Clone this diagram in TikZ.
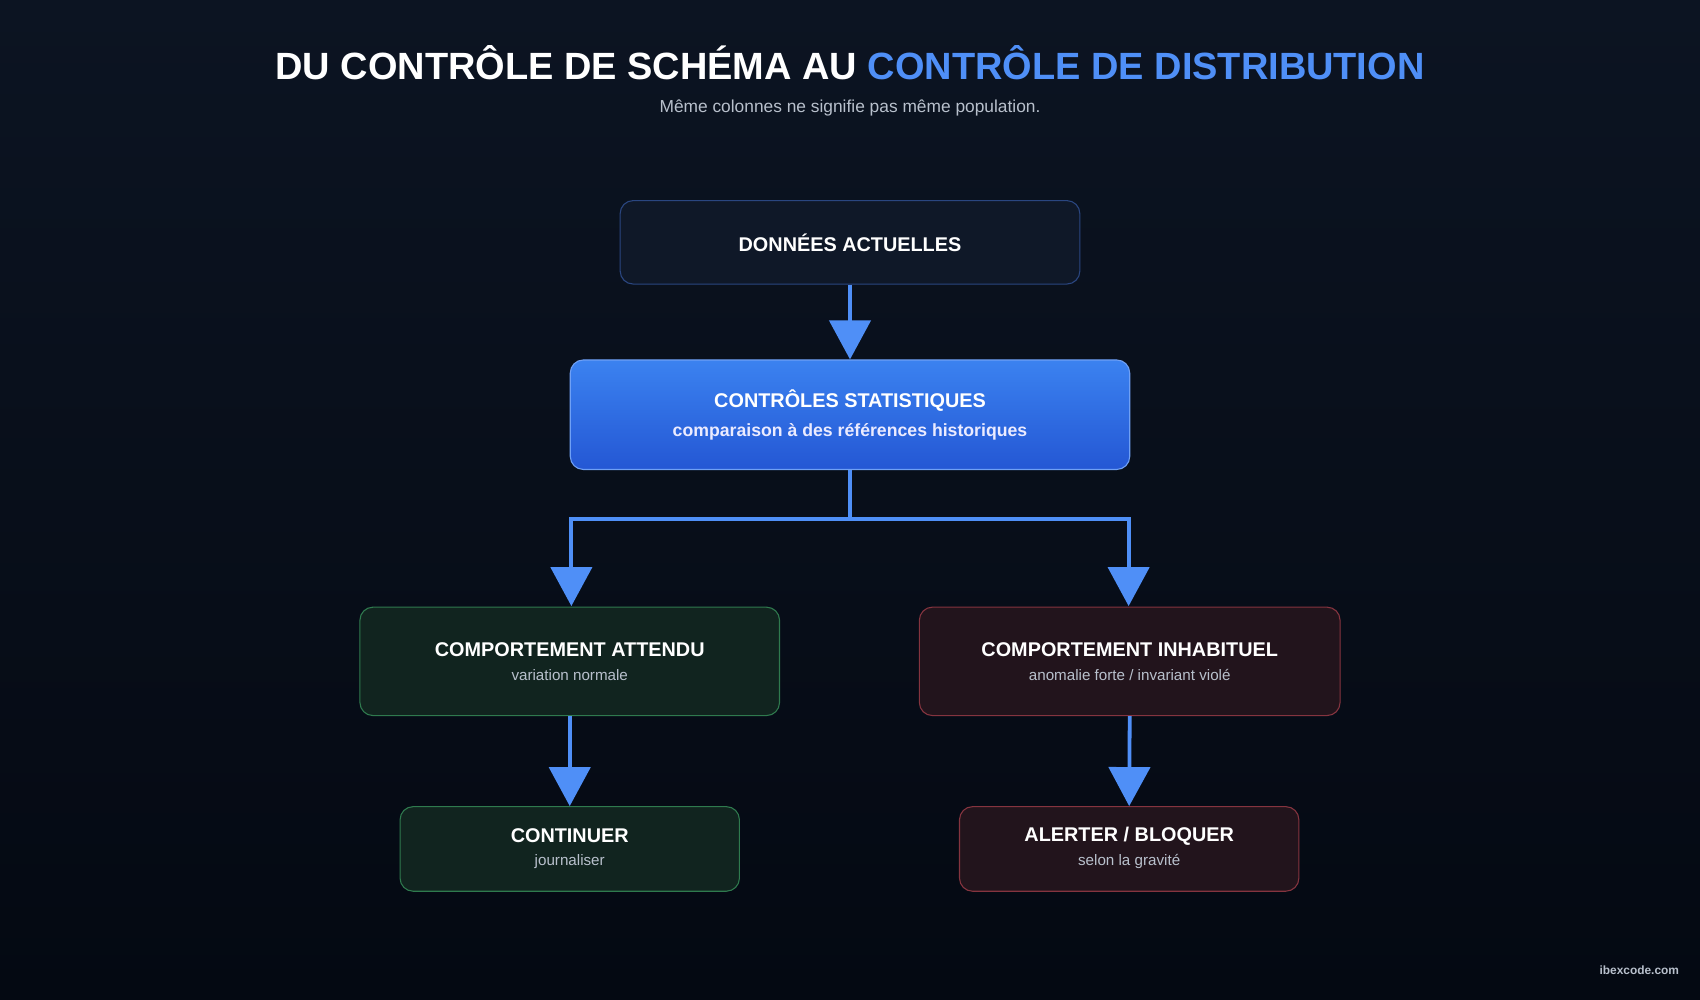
\documentclass[tikz,border=0pt]{standalone}
\usepackage{fontspec}
\setmainfont{Liberation Sans}
\usetikzlibrary{arrows.meta}
\definecolor{bgtop}{HTML}{0C1422}
\definecolor{bgbot}{HTML}{040912}
\definecolor{accent}{HTML}{4F8FF7}
\definecolor{sub}{HTML}{B8C0CC}
\definecolor{HTMLa}{HTML}{0F1828}
\definecolor{HTMLb}{HTML}{2A4680}
\definecolor{HTMLtop}{HTML}{3B82F0}
\definecolor{HTMLbot}{HTML}{2457D4}
\definecolor{HTMLbd}{HTML}{6FA0F5}
\definecolor{gfill}{HTML}{11241F}
\definecolor{gdraw}{HTML}{2F7A4E}
\definecolor{rfill}{HTML}{22141C}
\definecolor{rdraw}{HTML}{85343F}
\tikzset{
  box/.style={rounded corners=12pt, line width=1pt, align=center, text=white, inner sep=0pt},
  neutral/.style={box, fill=HTMLa, draw=HTMLb},
  arr/.style={draw=accent, line width=3.5pt, -{Triangle[width=38pt,length=36pt]}},
  line/.style={draw=accent, line width=3.5pt},
  h/.style={font=\bfseries\fontsize{18.3}{22}\selectfont, text=white},
  s/.style={font=\fontsize{14}{18}\selectfont, text=sub},
}
\begin{document}
\begin{tikzpicture}[x=1pt,y=-1pt]
\shade[top color=bgtop, bottom color=bgbot] (0,0) rectangle (1568,922);
\useasboundingbox (0,0) rectangle (1568,922);
\node[font=\bfseries\fontsize{35}{40}\selectfont, text=white] (title) at (784,58) {DU CONTRÔLE DE SCHÉMA AU \textcolor{accent}{CONTRÔLE DE DISTRIBUTION}};
\node[font=\fontsize{16}{20}\selectfont, text=sub] (subt) at (784,100) {Même colonnes ne signifie pas même population.};
\node[neutral, minimum width=424pt, minimum height=77pt, h] (b1) at (784,223.5) {DONNÉES ACTUELLES};
\node[box, top color=HTMLtop, bottom color=HTMLbot, draw=HTMLbd, minimum width=516pt, minimum height=101pt] (b2) at (784,382.5) {};
\node[h] (b2a) at (784,369) {CONTRÔLES STATISTIQUES};
\node[font=\bfseries\fontsize{16.3}{19}\selectfont, text=white!92!blue] (b2b) at (784,398) {comparaison à des références historiques};
\node[box, fill=gfill, draw=gdraw, minimum width=387pt, minimum height=100pt] (b3) at (525.5,610) {};
\node[h] (b3a) at (525.5,599) {COMPORTEMENT ATTENDU};
\node[s] (b3b) at (525.5,623) {variation normale};
\node[box, fill=rfill, draw=rdraw, minimum width=388pt, minimum height=100pt] (b4) at (1042,610) {};
\node[h] (b4a) at (1042,599) {COMPORTEMENT INHABITUEL};
\node[s] (b4b) at (1042,623) {anomalie forte / invariant violé};
\node[box, fill=gfill, draw=gdraw, minimum width=313pt, minimum height=78pt] (b5) at (525.5,783) {};
\node[h] (b5a) at (525.5,771) {CONTINUER};
\node[s] (b5b) at (525.5,795) {journaliser};
\node[box, fill=rfill, draw=rdraw, minimum width=313pt, minimum height=78pt] (b6) at (1041.5,783) {};
\node[h] (b6a) at (1041.5,771) {ALERTER / BLOQUER};
\node[s] (b6b) at (1041.5,795) {selon la gravité};
\coordinate (j) at (784,479);
\coordinate (jl) at (527,479);
\coordinate (jr) at (1041,479);
\coordinate (el) at (527,559);
\coordinate (er) at (1041,559);
\draw[arr] (b1.south) -- (b2.north);
\draw[line] (b2.south) -- (j);
\draw[line, line cap=rect] (jl) -- (jr);
\draw[arr] (jl) -- (el);
\draw[arr] (jr) -- (er);
\draw[arr] (b3.south) -- (b5.north);
\draw[arr] (b4.south) -- (b6.north);
\node[font=\bfseries\fontsize{11}{13}\selectfont, text=sub] (wm) at (1512,895) {ibexcode.com};
\end{tikzpicture}
\end{document}
